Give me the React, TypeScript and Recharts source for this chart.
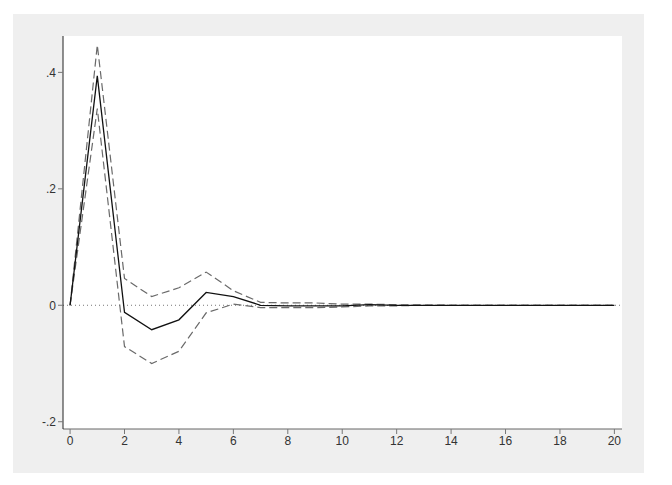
import React from "react";
import { LineChart, Line, XAxis, YAxis, ReferenceLine, CartesianGrid } from "recharts";

const steps = [0, 1, 2, 3, 4, 5, 6, 7, 8, 9, 10, 11, 12, 13, 14, 15, 16, 17, 18, 19, 20];
const irf = [0, 0.394, -0.012, -0.042, -0.025, 0.022, 0.015, 0.0, -0.001, -0.001, -0.001, 0.001, 0.0, 0.0, 0, 0, 0, 0, 0, 0, 0];
const upper = [0, 0.447, 0.046, 0.015, 0.03, 0.057, 0.025, 0.005, 0.004, 0.004, 0.002, 0.002, 0.001, 0.0005, 0, 0, 0, 0, 0, 0, 0];
const lower = [0, 0.338, -0.071, -0.1, -0.079, -0.013, 0.002, -0.004, -0.004, -0.004, -0.003, -0.001, -0.001, 0, 0, 0, 0, 0, 0, 0, 0];
const xTicks = [0, 2, 4, 6, 8, 10, 12, 14, 16, 18, 20];
const yTicks = [-0.2, 0, 0.2, 0.4];
const yTickLabels = ["-.2", "0", ".2", ".4"];

const data = steps.map((s, i) => ({ step: s, irf: irf[i], upper: upper[i], lower: lower[i] }));

const fmtY = (v: number) => {
  const i = yTicks.findIndex((t) => Math.abs(t - v) < 1e-9);
  return i >= 0 ? yTickLabels[i] : String(v);
};

const tickStyle = { fontFamily: "'Liberation Sans', Arial, sans-serif", fontSize: 12, fill: "#333" };

export default function App() {
  return (
    <div style={{ position: "absolute", left: 0, top: 0, width: 672, height: 485, background: "#fff" }}>
      <div style={{ position: "absolute", left: 13, top: 14, width: 631, height: 459, background: "#efefef" }} />
      <div style={{ position: "absolute", left: 0, top: 0 }}>
        <LineChart width={672} height={485} data={data} margin={{ top: 36, right: 50, bottom: 26, left: 13 }}>
          <CartesianGrid fill="#ffffff" horizontal={false} vertical={false} stroke="none" />
          <XAxis
            dataKey="step"
            type="number"
            domain={[-0.26, 20.28]}
            ticks={xTicks}
            allowDataOverflow
            height={30}
            stroke="#666"
            tickSize={5}
            tickLine={{ stroke: "#777" }}
            tick={tickStyle}
          />
          <YAxis
            type="number"
            domain={[-0.2125, 0.4625]}
            ticks={yTicks}
            allowDataOverflow
            width={50}
            stroke="#222"
            tickSize={5}
            tickLine={{ stroke: "#777" }}
            tick={tickStyle}
            tickFormatter={fmtY}
          />
          <ReferenceLine y={0} stroke="#777" strokeDasharray="1 3" strokeWidth={1} />
          <Line type="linear" dataKey="upper" stroke="#6a6a6a" strokeWidth={1.2} strokeDasharray="8 4" dot={false} isAnimationActive={false} />
          <Line type="linear" dataKey="lower" stroke="#6a6a6a" strokeWidth={1.2} strokeDasharray="8 4" dot={false} isAnimationActive={false} />
          <Line type="linear" dataKey="irf" stroke="#111" strokeWidth={1.3} dot={false} isAnimationActive={false} />
        </LineChart>
      </div>
    </div>
  );
}
